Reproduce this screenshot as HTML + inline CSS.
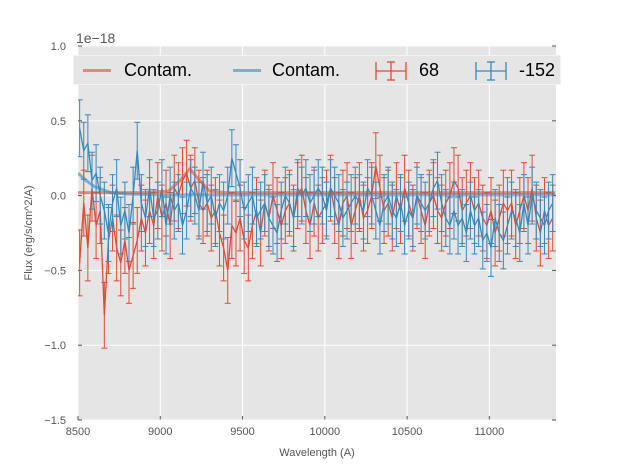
<!DOCTYPE html>
<html><head><meta charset="utf-8"><style>
body{margin:0;background:#fff;font-family:"Liberation Sans",sans-serif}
svg{display:block}
</style></head><body>
<svg id="chart" width="617" height="467"></svg>
<script>
const wavelengths = [];
const startWave = 8510, stepWave = 25;
const redFlux = [-0.45,-0.05,-0.35,0.05,-0.2,-0.1,-0.8,-0.3,-0.15,-0.35,-0.45,-0.3,-0.5,-0.4,-0.3,-0.15,-0.25,-0.1,-0.2,0.0,
-0.15,-0.05,-0.2,0.05,0.0,0.1,0.15,0.05,0.1,-0.05,-0.1,-0.05,-0.15,-0.1,-0.25,-0.35,-0.5,-0.2,-0.25,-0.15,
-0.3,-0.35,-0.2,-0.1,-0.25,-0.05,-0.15,0.0,-0.1,-0.2,-0.1,-0.05,-0.15,0.0,0.05,-0.1,-0.2,-0.05,-0.15,-0.1,
-0.05,0.05,-0.1,-0.2,-0.05,0.0,-0.2,-0.1,0.0,-0.15,-0.1,0.0,0.2,0.05,-0.1,-0.05,-0.15,0.0,-0.1,0.05,
-0.05,-0.15,0.0,-0.1,-0.2,-0.05,0.0,-0.1,-0.15,-0.05,0.0,0.1,0.05,-0.1,-0.05,0.0,-0.1,-0.05,-0.15,-0.2,
-0.1,-0.25,-0.15,-0.05,-0.1,-0.05,-0.2,-0.1,0.0,-0.1,0.05,-0.15,-0.25,-0.1,-0.2,-0.15];
const blueFlux = [0.45,0.3,0.35,0.1,0.15,0.0,-0.1,-0.25,-0.05,0.05,-0.2,-0.1,-0.25,0.0,0.3,-0.05,-0.15,0.05,-0.15,-0.1,
0.05,-0.2,0.0,-0.1,-0.05,-0.2,-0.1,0.05,0.0,-0.1,0.1,-0.05,0.0,-0.15,-0.05,-0.1,0.0,0.25,0.15,0.05,
-0.1,-0.05,0.0,-0.15,-0.1,-0.05,-0.15,-0.2,-0.25,-0.1,0.0,-0.05,-0.15,0.05,0.0,0.05,-0.05,0.0,0.05,0.0,
-0.1,0.05,0.0,-0.05,-0.15,-0.1,-0.05,0.0,-0.05,-0.1,0.05,0.0,-0.1,-0.2,-0.05,0.0,-0.1,-0.15,-0.05,-0.2,
-0.1,-0.15,0.0,-0.05,-0.1,-0.05,0.05,0.1,-0.05,-0.15,-0.2,-0.1,-0.2,-0.15,-0.25,-0.1,-0.2,-0.15,-0.3,-0.25,
-0.35,-0.15,-0.25,-0.3,-0.2,-0.1,-0.15,-0.25,-0.05,-0.2,0.0,-0.1,-0.15,-0.2,-0.1,-0.05];
for (let i = 0; i < redFlux.length; i++) wavelengths.push(startWave + i * stepWave);
const redErr = 0.22, blueErr = 0.19;
const contamRedWave = [8500,8900,9050,9120,9180,9240,9300,9400,11400];
const contamRed = [0.02,0.02,0.03,0.1,0.18,0.1,0.03,0.02,0.02];
const contamBlueWave = [8500,8550,8600,8650,8700,8800,9000,11400];
const contamBlue = [0.15,0.1,0.06,0.04,0.02,0.01,0.005,0.005];
const xTicks = [8500,9000,9500,10000,10500,11000];
const yTicks = [1.0,0.5,0.0,-0.5,-1.0,-1.5];
const yTickLabels = ["1.0","0.5","0.0","\u22120.5","\u22121.0","\u22121.5"];

const L=78,R=556,T=46,B=420, xMin=8500,xMax=11405,yMin=-1.5,yMax=1.0;
const X=v=>L+(v-xMin)/(xMax-xMin)*(R-L);
const Y=v=>B-(v-yMin)/(yMax-yMin)*(B-T);
const NS="http://www.w3.org/2000/svg";
const svg=document.getElementById('chart');
function mk(tag,attrs,parent){const e=document.createElementNS(NS,tag);for(const k in attrs)e.setAttribute(k,attrs[k]);(parent||svg).appendChild(e);return e;}

let e=mk('rect',{x:L,y:T,width:R-L,height:B-T,fill:'#e5e5e5'});


xTicks.forEach(t=>{
  let g=mk('line',{x1:X(t),x2:X(t),y1:T,y2:B,stroke:'#fff','stroke-width':1});
  
  
  let tk=mk('line',{x1:X(t),x2:X(t),y1:B,y2:B-4,stroke:'#555'});
  
  
  let tx=mk('text',{x:X(t),y:B+15,'text-anchor':'middle','font-size':11,fill:'#555'});
  tx.textContent=t;
  
  
});
yTicks.forEach((t,i)=>{
  let g=mk('line',{x1:L,x2:R,y1:Y(t),y2:Y(t),stroke:'#fff','stroke-width':1});
  
  
  let tk=mk('line',{x1:L,x2:L+4,y1:Y(t),y2:Y(t),stroke:'#555'});
  
  
  let tk2=mk('line',{x1:R,x2:R-4,y1:Y(t),y2:Y(t),stroke:'#555'});
  
  
  let tx=mk('text',{x:L-12,y:Y(t)+4,'text-anchor':'end','font-size':11,fill:'#555'});
  tx.textContent=yTickLabels[i];
  
  
});
const clip=mk('clipPath',{id:'pc'});mk('rect',{x:L,y:T,width:R-L,height:B-T},clip);
const plot=mk('g',{'clip-path':'url(#pc)'});



function series(vals,err,color,name){
  const g=mk('g',{stroke:color,'stroke-width':1,fill:'none'},plot);
  
  
  vals.forEach((v,i)=>{
    const x=X(wavelengths[i]);
    mk('line',{x1:x,x2:x,y1:Y(v-err),y2:Y(v+err)},g);
    mk('line',{x1:x-3,x2:x+3,y1:Y(v-err),y2:Y(v-err)},g);
    mk('line',{x1:x-3,x2:x+3,y1:Y(v+err),y2:Y(v+err)},g);
  });
  const p=mk('polyline',{points:vals.map((v,i)=>X(wavelengths[i])+','+Y(v)).join(' '),'stroke-width':1.3},g);
  
  
}
series(redFlux,redErr,'#E24A33','series-68');
series(blueFlux,blueErr,'#348ABD','series-minus152');
let c1=mk('polyline',{points:contamRedWave.map((w,i)=>X(w)+','+Y(contamRed[i])).join(' '),stroke:'#E24A33','stroke-opacity':0.6,'stroke-width':3,fill:'none'},plot);


let c2=mk('polyline',{points:contamBlueWave.map((w,i)=>X(w)+','+Y(contamBlue[i])).join(' '),stroke:'#348ABD','stroke-opacity':0.6,'stroke-width':3,fill:'none'},plot);


</script>
<div style="position:absolute;left:73px;top:55px;width:488px;height:30px;background:#e5e5e5;border:1px solid #f4f4f4;box-sizing:border-box;font-size:18px;color:#000">
  <div style="position:absolute;left:9px;top:13px;width:28px;height:3px;background:#E24A33;opacity:.6"></div>
  <span style="position:absolute;left:50px;top:4px">Contam.</span>
  <div style="position:absolute;left:159px;top:13px;width:28px;height:3px;background:#348ABD;opacity:.6"></div>
  <span style="position:absolute;left:198px;top:4px">Contam.</span>
  <svg style="position:absolute;left:300px;top:4px" width="34" height="22"><g stroke="#E24A33" stroke-width="1.3"><line x1="2" x2="32" y1="11" y2="11"/><line x1="2" x2="2" y1="2" y2="20"/><line x1="32" x2="32" y1="2" y2="20"/><line x1="13" x2="21" y1="2" y2="2"/><line x1="13" x2="21" y1="20" y2="20"/><line x1="17" x2="17" y1="2" y2="20"/></g></svg>
  <span style="position:absolute;left:345px;top:4px">68</span>
  <svg style="position:absolute;left:400px;top:4px" width="34" height="22"><g stroke="#348ABD" stroke-width="1.3"><line x1="2" x2="32" y1="11" y2="11"/><line x1="2" x2="2" y1="2" y2="20"/><line x1="32" x2="32" y1="2" y2="20"/><line x1="13" x2="21" y1="2" y2="2"/><line x1="13" x2="21" y1="20" y2="20"/><line x1="17" x2="17" y1="2" y2="20"/></g></svg>
  <span style="position:absolute;left:445px;top:4px">-152</span>
</div>
<div style="position:absolute;left:76px;top:30px;font-size:14px;color:#555">1e−18</div>
<div style="position:absolute;left:0;width:634px;top:447px;text-align:center;font-size:11px;color:#555">Wavelength (A)</div>
<div style="position:absolute;left:29px;top:233px;font-size:11px;color:#555;transform:translate(-50%,-50%) rotate(-90deg);white-space:nowrap">Flux (erg/s/cm^2/A)</div>
</body></html>
